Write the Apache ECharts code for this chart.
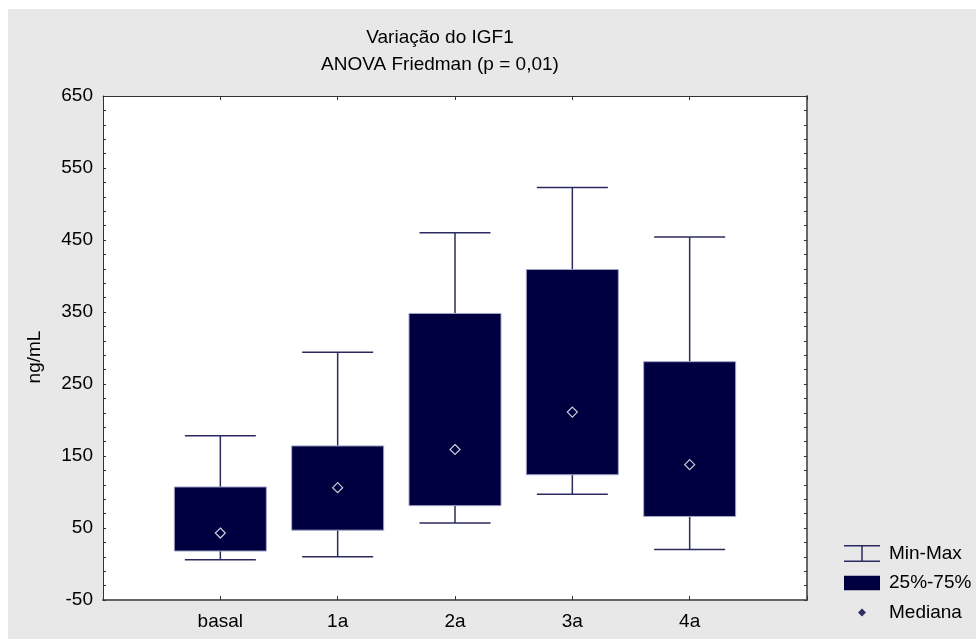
<!DOCTYPE html>
<html>
<head>
<meta charset="utf-8">
<script src="https://cdn.jsdelivr.net/npm/echarts@6/dist/echarts.min.js"></script>
<style>html,body{margin:0;padding:0;background:#fff}#c{width:976px;height:639px}</style>
</head>
<body>
<div id="c"></div>
<script>
var categories = ['basal', '1a', '2a', '3a', '4a'];
var minValues = [6, 10, 57, 97, 20];
var q1Values = [18, 47, 81, 124, 66];
var medianValues = [43, 106, 159, 211, 138];
var q3Values = [107, 164, 348, 409, 281];
var maxValues = [178, 294, 460, 523, 454];
var yLabelValues = [-50, 50, 150, 250, 350, 450, 550, 650];
var yTickValues = [];
for (var t = -50; t <= 650; t += 20) yTickValues.push(t);
yTickValues.push(650);

var axisData = [''].concat(categories).concat(['']);
var whiskerData = categories.map(function (c, i) {
  return [i + 1, minValues[i], q1Values[i], q3Values[i], maxValues[i]];
});
var boxData = categories.map(function (c, i) {
  return [i + 1, q1Values[i], q3Values[i]];
});
var medianData = categories.map(function (c, i) {
  return [i + 1, medianValues[i]];
});

var FONT = '"Liberation Sans", Arial, sans-serif';
var NAVY = '#000040';
var WHISK = '#2a2a60';

var chart = echarts.init(document.getElementById('c'), null, {renderer: 'canvas'});
chart.setOption({
  backgroundColor: '#ffffff',
  animation: false,
  textStyle: {fontFamily: FONT},
  graphic: {
    elements: [{
      type: 'rect', z: -100, silent: true,
      shape: {x: 8, y: 9, width: 968, height: 630},
      style: {fill: '#e8e8e8'}
    }]
  },
  title: {
    text: 'Variação do IGF1\nANOVA Friedman (p = 0,01)',
    left: 435, top: 19, textAlign: 'center',
    textStyle: {fontFamily: FONT, fontSize: 19, fontWeight: 'normal', color: '#000', lineHeight: 27}
  },
  legend: {
    orient: 'vertical', left: 839, top: 539,
    itemWidth: 36, itemHeight: 17, itemGap: 10.5,
    textStyle: {fontFamily: FONT, fontSize: 19, color: '#000', padding: [0, 0, 0, 4]},
    data: [
      {name: 'Min-Max', icon: 'path://M0,0H36V1.5H0Z M17.25,1.5H18.75V15.5H17.25Z M0,15.5H36V17H0Z',
        itemStyle: {color: WHISK, borderWidth: 0}},
      {name: '25%-75%', icon: 'path://M0,1.5H36V16H0Z', itemStyle: {color: NAVY, borderWidth: 0}},
      {name: 'Mediana', icon: 'path://M0,0M36,17M18,4.5L22,8.5L18,12.5L14,8.5Z', itemStyle: {color: NAVY, borderWidth: 0}}
    ]
  },
  grid: {left: 103, right: 169, top: 96, bottom: 39, show: true, backgroundColor: '#ffffff', borderWidth: 0},
  xAxis: [{
    type: 'category', data: axisData, boundaryGap: false, position: 'bottom',
    axisLine: {show: true, onZero: false, lineStyle: {color: '#666', width: 2}},
    axisTick: {show: true, inside: true, length: 4, lineStyle: {color: '#333'}},
    axisLabel: {fontFamily: FONT, fontSize: 19, color: '#000', margin: 12},
    splitLine: {show: false}
  }, {
    type: 'category', data: axisData, boundaryGap: false, position: 'top',
    axisLine: {show: true, onZero: false, lineStyle: {color: '#333', width: 1}},
    axisTick: {show: true, inside: true, length: 4, lineStyle: {color: '#333'}},
    axisLabel: {show: false},
    splitLine: {show: false}
  }],
  yAxis: [{
    type: 'value', min: -50, max: 650, position: 'left',
    name: 'ng/mL', nameLocation: 'middle', nameGap: 59, nameRotate: 90,
    nameTextStyle: {fontFamily: FONT, fontSize: 19, color: '#000', padding: [0, 18, 0, 0]},
    axisLine: {show: true, onZero: false, lineStyle: {color: '#333', width: 1}},
    axisTick: {show: true, inside: true, length: 3, lineStyle: {color: '#333'}, customValues: yTickValues},
    axisLabel: {fontFamily: FONT, fontSize: 19, color: '#000', margin: 10, customValues: yLabelValues},
    splitLine: {show: false}
  }, {
    type: 'value', min: -50, max: 650, position: 'right',
    axisLine: {show: true, onZero: false, lineStyle: {color: '#666', width: 2}},
    axisTick: {show: true, inside: true, length: 3, lineStyle: {color: '#333'}, customValues: yTickValues},
    axisLabel: {show: false},
    splitLine: {show: false}
  }],
  series: [{
    name: 'Min-Max', type: 'custom', xAxisIndex: 0, yAxisIndex: 0,
    data: whiskerData,
    encode: {x: 0, y: [1, 2, 3, 4]},
    itemStyle: {color: WHISK},
    renderItem: function (params, api) {
      var x = api.value(0);
      var pMin = api.coord([x, api.value(1)]);
      var pQ1 = api.coord([x, api.value(2)]);
      var pQ3 = api.coord([x, api.value(3)]);
      var pMax = api.coord([x, api.value(4)]);
      var half = 35.5;
      var st = {stroke: WHISK, lineWidth: 1.5};
      return {
        type: 'group',
        children: [
          {type: 'line', shape: {x1: pMin[0], y1: pMin[1], x2: pQ1[0], y2: pQ1[1]}, style: st},
          {type: 'line', shape: {x1: pQ3[0], y1: pQ3[1], x2: pMax[0], y2: pMax[1]}, style: st},
          {type: 'line', shape: {x1: pMin[0] - half, y1: pMin[1], x2: pMin[0] + half, y2: pMin[1]}, style: st},
          {type: 'line', shape: {x1: pMax[0] - half, y1: pMax[1], x2: pMax[0] + half, y2: pMax[1]}, style: st}
        ]
      };
    }
  }, {
    name: '25%-75%', type: 'custom', xAxisIndex: 0, yAxisIndex: 0,
    data: boxData,
    encode: {x: 0, y: [1, 2]},
    itemStyle: {color: NAVY},
    renderItem: function (params, api) {
      var x = api.value(0);
      var pQ1 = api.coord([x, api.value(1)]);
      var pQ3 = api.coord([x, api.value(2)]);
      var w = 92;
      return {
        type: 'rect',
        shape: {x: pQ1[0] - w / 2, y: pQ3[1], width: w, height: pQ1[1] - pQ3[1]},
        style: {fill: NAVY, stroke: '#a4a4c8', lineWidth: 1}
      };
    }
  }, {
    name: 'Mediana', type: 'scatter', xAxisIndex: 0, yAxisIndex: 0,
    data: medianData, symbol: 'diamond', symbolSize: 10, z: 5,
    itemStyle: {color: NAVY, borderColor: '#ffffff', borderWidth: 1.2}
  }]
});
</script>
</body>
</html>
